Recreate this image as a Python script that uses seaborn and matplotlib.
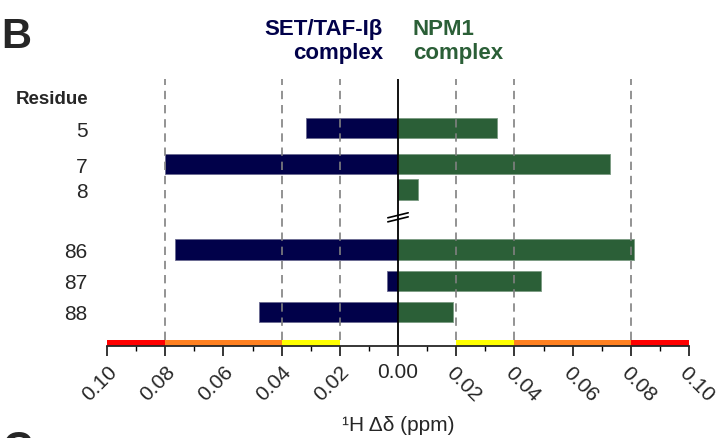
import matplotlib
matplotlib.use('Agg')
import matplotlib.pyplot as plt
import seaborn as sns
import pandas as pd

# data
residues = ['5', '7', '8', '86', '87', '88']
set_shift = [0.0316, 0.0800, 0.0, 0.0766, 0.0038, 0.0478]   # SET/TAF-Ibeta complex (drawn to the left)
npm1_shift = [0.0340, 0.0730, 0.0069, 0.0810, 0.0490, 0.0190]  # NPM1 complex (drawn to the right)
tick_values = [-0.10, -0.08, -0.06, -0.04, -0.02, 0.0, 0.02, 0.04, 0.06, 0.08, 0.10]
grid_values = [-0.08, -0.04, -0.02, 0.02, 0.04, 0.08]
scale_bands = [(0.08, 0.10, '#ff0000'), (0.04, 0.08, '#ff8020'), (0.02, 0.04, '#ffff00')]

# layout: row positions (the axis is broken between 8 and 86)
row_pos = [0.0, 1.16, 1.97, 3.90, 4.90, 5.90]

NAVY = '#01014a'
GREEN = '#2b5f37'

sns.set_style('ticks')
plt.rcParams['font.family'] = ['Liberation Sans', 'DejaVu Sans']

df = pd.DataFrame({
    'residue': residues,
    'pos': row_pos,
    'set': [-v for v in set_shift],
    'npm1': npm1_shift,
})

fig = plt.figure(figsize=(7.22, 4.39), dpi=100)
ax = fig.add_axes([107 / 722, 1 - 347 / 439, (689 - 107) / 722, (347 - 80) / 439])

sns.barplot(data=df, x='set', y='pos', orient='y', native_scale=True,
            color=NAVY, saturation=1, edgecolor='#6a6a90', linewidth=0.6, ax=ax)
sns.barplot(data=df, x='npm1', y='pos', orient='y', native_scale=True,
            color=GREEN, saturation=1, edgecolor='#7a9a82', linewidth=0.6, ax=ax)

ax.set_xlim(-0.10, 0.10)
ax.set_ylim(7.0, -1.58)

# dashed guide lines, on top of the bars
for g in grid_values:
    ax.axvline(g, ymin=6 / 267, ymax=1, color='#808080', lw=1.2,
               dashes=(5, 3.5), zorder=5)

# zero line with break marks
ax.axvline(0, color='black', lw=1.3, zorder=6)
for dy in (0.0, 0.13):
    ax.plot([-0.0035, 0.0035], [2.88 + dy, 2.72 + dy], color='black', lw=1.2,
            zorder=7, clip_on=False)

# colour scale strip along the axis
for lo, hi, col in scale_bands:
    ax.axvspan(-hi, -lo, ymin=0, ymax=6 / 267, color=col, lw=0, zorder=4)
    ax.axvspan(lo, hi, ymin=0, ymax=6 / 267, color=col, lw=0, zorder=4)

sns.despine(ax=ax, left=True, top=True, right=True)
ax.spines['bottom'].set_linewidth(1.3)
ax.spines['bottom'].set_zorder(8)

ax.set_xticks(tick_values)
ax.set_xticklabels([f'{abs(v):.2f}' for v in tick_values], fontsize=15)
ax.set_xticks([v / 100 for v in range(-9, 10, 2)], minor=True)
ax.tick_params(axis='x', which='major', length=7.5, width=1.1, direction='out',
               color='black', pad=4)
ax.tick_params(axis='x', which='minor', length=3.8, width=1.0, direction='out', color='black')
for v, lab in zip(tick_values, ax.get_xticklabels()):
    lab.set_rotation_mode('anchor')
    lab.set_va('top')
    if v < 0:
        lab.set_rotation(45)
        lab.set_ha('right')
    elif v > 0:
        lab.set_rotation(-45)
        lab.set_ha('left')
    else:
        lab.set_rotation(0)
        lab.set_ha('center')

ax.set_yticks(row_pos)
ax.set_yticklabels(residues, fontsize=15)
ax.tick_params(axis='y', length=0, pad=14)
ax.set_ylabel('')
ax.set_xlabel('¹H Δδ (ppm)', fontsize=15, labelpad=8)

# headers
W, H = 722, 439
fig.text(1 / W, 1 - 48 / H, 'B', fontsize=30, fontweight='bold', ha='left', va='baseline')
fig.text(2 / W, 1 - 461 / H, 'C', fontsize=30, fontweight='bold', ha='left', va='baseline')
fig.text(88 / W, 1 - 104 / H, 'Residue', fontsize=13.5, fontweight='bold', ha='right', va='baseline')
fig.text(383 / W, 1 - 35 / H, 'SET/TAF-Iβ', fontsize=16, fontweight='bold', color=NAVY,
         ha='right', va='baseline')
fig.text(383 / W, 1 - 59 / H, 'complex', fontsize=16, fontweight='bold', color=NAVY,
         ha='right', va='baseline')
fig.text(413 / W, 1 - 35 / H, 'NPM1', fontsize=16, fontweight='bold', color=GREEN,
         ha='left', va='baseline')
fig.text(413 / W, 1 - 59 / H, 'complex', fontsize=16, fontweight='bold', color=GREEN,
         ha='left', va='baseline')

fig.savefig('out.png', dpi=100)
plt.close(fig)
